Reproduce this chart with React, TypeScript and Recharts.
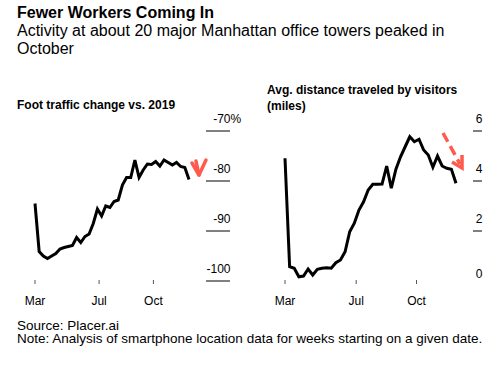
import React from 'react';
import { LineChart, Line, XAxis, YAxis, ReferenceDot } from 'recharts';

// weekly readings, Mar -> mid Nov
const footTraffic = [
  -84.5, -94.1, -95.0, -95.5, -95.0, -94.5, -93.6, -93.3, -93.1, -92.9,
  -91.3, -92.3, -91.1, -90.6, -88.5, -85.6, -87.0, -85.0, -85.3, -84.1,
  -83.8, -80.8, -79.3, -79.3, -75.8, -79.3, -77.8, -76.6, -76.7, -76.1,
  -77.0, -75.8, -76.3, -76.8, -76.3, -77.1, -77.3, -79.7,
];

const avgDistance = [
  4.91, 0.57, 0.51, 0.17, 0.2, 0.48, 0.24, 0.47, 0.51, 0.53,
  0.51, 0.73, 0.84, 1.17, 1.97, 2.31, 2.84, 3.17, 3.64, 3.87,
  3.87, 3.88, 4.6, 3.71, 4.47, 4.97, 5.37, 5.77, 5.57, 5.67,
  5.24, 5.04, 4.55, 5.0, 4.6, 4.51, 4.47, 3.91,
];

const monthTicks = [0, 15.4, 28.45];
const monthLabels = ['Mar', 'Jul', 'Oct'];

const footTicks = [-100, -90, -80, -70];
const distanceTicks = [0, 2, 4, 6];

// arrow tips, in data units
const footArrow = { x: 39.4, y: -78.8 };
const distanceArrow = { x: 38.3, y: 4.52 };

const FONT = '"Liberation Sans", Arial, Helvetica, sans-serif';
const RED = '#ff5a4c';

const footData = footTraffic.map((v, i) => ({ week: i, value: v }));
const distanceData = avgDistance.map((v, i) => ({ week: i, value: v }));

const monthLabel = (v: number) => monthLabels[monthTicks.indexOf(v)] ?? '';

const XTick = (props: any) => {
  const { x, y, payload } = props;
  return (
    <g>
      <line x1={x} x2={x} y1={y - 1} y2={y + 3} stroke="#555" strokeWidth={1} />
      <text x={x} y={y + 24} textAnchor="middle" fontSize={12} fontFamily={FONT} fill="#000">
        {monthLabel(payload.value)}
      </text>
    </g>
  );
};

const FootTick = (props: any) => {
  const { x, y, payload } = props;
  return (
    <g>
      <line x1={x + 17} x2={x + 41} y1={y} y2={y} stroke="#000" strokeWidth={1} />
      <text x={x + 41.5} y={y - 8} textAnchor="end" fontSize={12} fontFamily={FONT} fill="#000">
        {payload.value}
      </text>
      {payload.value === -70 && (
        <text x={x + 41.5} y={y - 8} textAnchor="start" fontSize={12} fontFamily={FONT} fill="#000">
          %
        </text>
      )}
    </g>
  );
};

const DistanceTick = (props: any) => {
  const { x, y, payload } = props;
  const zero = payload.value === 0;
  return (
    <g>
      {!zero && <line x1={x + 17} x2={x + 26} y1={y} y2={y} stroke="#000" strokeWidth={1} />}
      <text x={x + 26.5} y={zero ? y - 3 : y - 8} textAnchor="end" fontSize={12} fontFamily={FONT} fill="#000">
        {payload.value}
      </text>
    </g>
  );
};

const SmallArrow = (props: any) => {
  const { cx, cy } = props;
  return (
    <g stroke={RED} strokeWidth={3.5} fill="none" strokeLinecap="round" strokeLinejoin="round">
      <line x1={cx - 3} y1={cy - 14} x2={cx} y2={cy} />
      <polyline points={`${cx - 7},${cy - 12} ${cx},${cy} ${cx + 7},${cy - 15}`} />
    </g>
  );
};

const DashedArrow = (props: any) => {
  const { cx, cy } = props;
  return (
    <g stroke={RED} strokeWidth={3.5} fill="none" strokeLinecap="butt">
      <line x1={cx - 19} y1={cy - 35} x2={cx - 2} y2={cy - 4} strokeDasharray="10 5" />
      <polyline points={`${cx},${cy - 13} ${cx},${cy} ${cx - 10},${cy - 6}`} strokeLinejoin="miter" />
    </g>
  );
};

export default function App() {
  return (
    <div style={{ position: 'absolute', left: 0, top: 0, width: 500, height: 375, background: '#fff' }}>
      <svg width={500} height={375} style={{ position: 'absolute', left: 0, top: 0 }} fontFamily={FONT}>
        <text x={17} y={17.5} fontSize={16} fontWeight="bold" fill="#000">Fewer Workers Coming In</text>
        <text x={17} y={36} fontSize={16} fill="#000">Activity at about 20 major Manhattan office towers peaked in</text>
        <text x={17} y={54} fontSize={16} fill="#000">October</text>
        <text x={17} y={108.5} fontSize={12} fontWeight="bold" fill="#000">Foot traffic change vs. 2019</text>
        <text x={267} y={93.5} fontSize={12} fontWeight="bold" fill="#000">Avg. distance traveled by visitors</text>
        <text x={267} y={109.5} fontSize={12} fontWeight="bold" fill="#000">(miles)</text>
        <text x={17} y={329.5} fontSize={13.5} fill="#000">Source: Placer.ai</text>
        <text x={17} y={343} fontSize={13.5} fill="#000">Note: Analysis of smartphone location data for weeks starting on a given date.</text>
      </svg>

      <div style={{ position: 'absolute', left: 0, top: 0 }}>
        <LineChart width={250} height={320} data={footData} margin={{ top: 131, right: 0, bottom: 0, left: 35 }}>
          <XAxis
            dataKey="week"
            type="number"
            domain={[0, 37]}
            ticks={monthTicks}
            interval={0}
            height={39}
            axisLine={false}
            tickLine={false}
            tickSize={0}
            tickMargin={0}
            tick={XTick}
          />
          <YAxis
            orientation="right"
            domain={[-100, -70]}
            ticks={footTicks}
            interval={0}
            width={61}
            axisLine={false}
            tickLine={false}
            tickSize={0}
            tickMargin={0}
            tick={FootTick}
          />
          <Line dataKey="value" stroke="#000" strokeWidth={3} dot={false} isAnimationActive={false} />
          <ReferenceDot x={footArrow.x} y={footArrow.y} ifOverflow="visible" shape={SmallArrow} />
        </LineChart>
      </div>

      <div style={{ position: 'absolute', left: 250, top: 0 }}>
        <LineChart width={250} height={320} data={distanceData} margin={{ top: 131, right: 0, bottom: 0, left: 35 }}>
          <XAxis
            dataKey="week"
            type="number"
            domain={[0, 37]}
            ticks={monthTicks}
            interval={0}
            height={39}
            axisLine={false}
            tickLine={false}
            tickSize={0}
            tickMargin={0}
            tick={XTick}
          />
          <YAxis
            orientation="right"
            domain={[0, 6]}
            ticks={distanceTicks}
            interval={0}
            width={44}
            axisLine={false}
            tickLine={false}
            tickSize={0}
            tickMargin={0}
            tick={DistanceTick}
          />
          <Line dataKey="value" stroke="#000" strokeWidth={3} dot={false} isAnimationActive={false} />
          <ReferenceDot x={distanceArrow.x} y={distanceArrow.y} ifOverflow="visible" shape={DashedArrow} />
        </LineChart>
      </div>
    </div>
  );
}
